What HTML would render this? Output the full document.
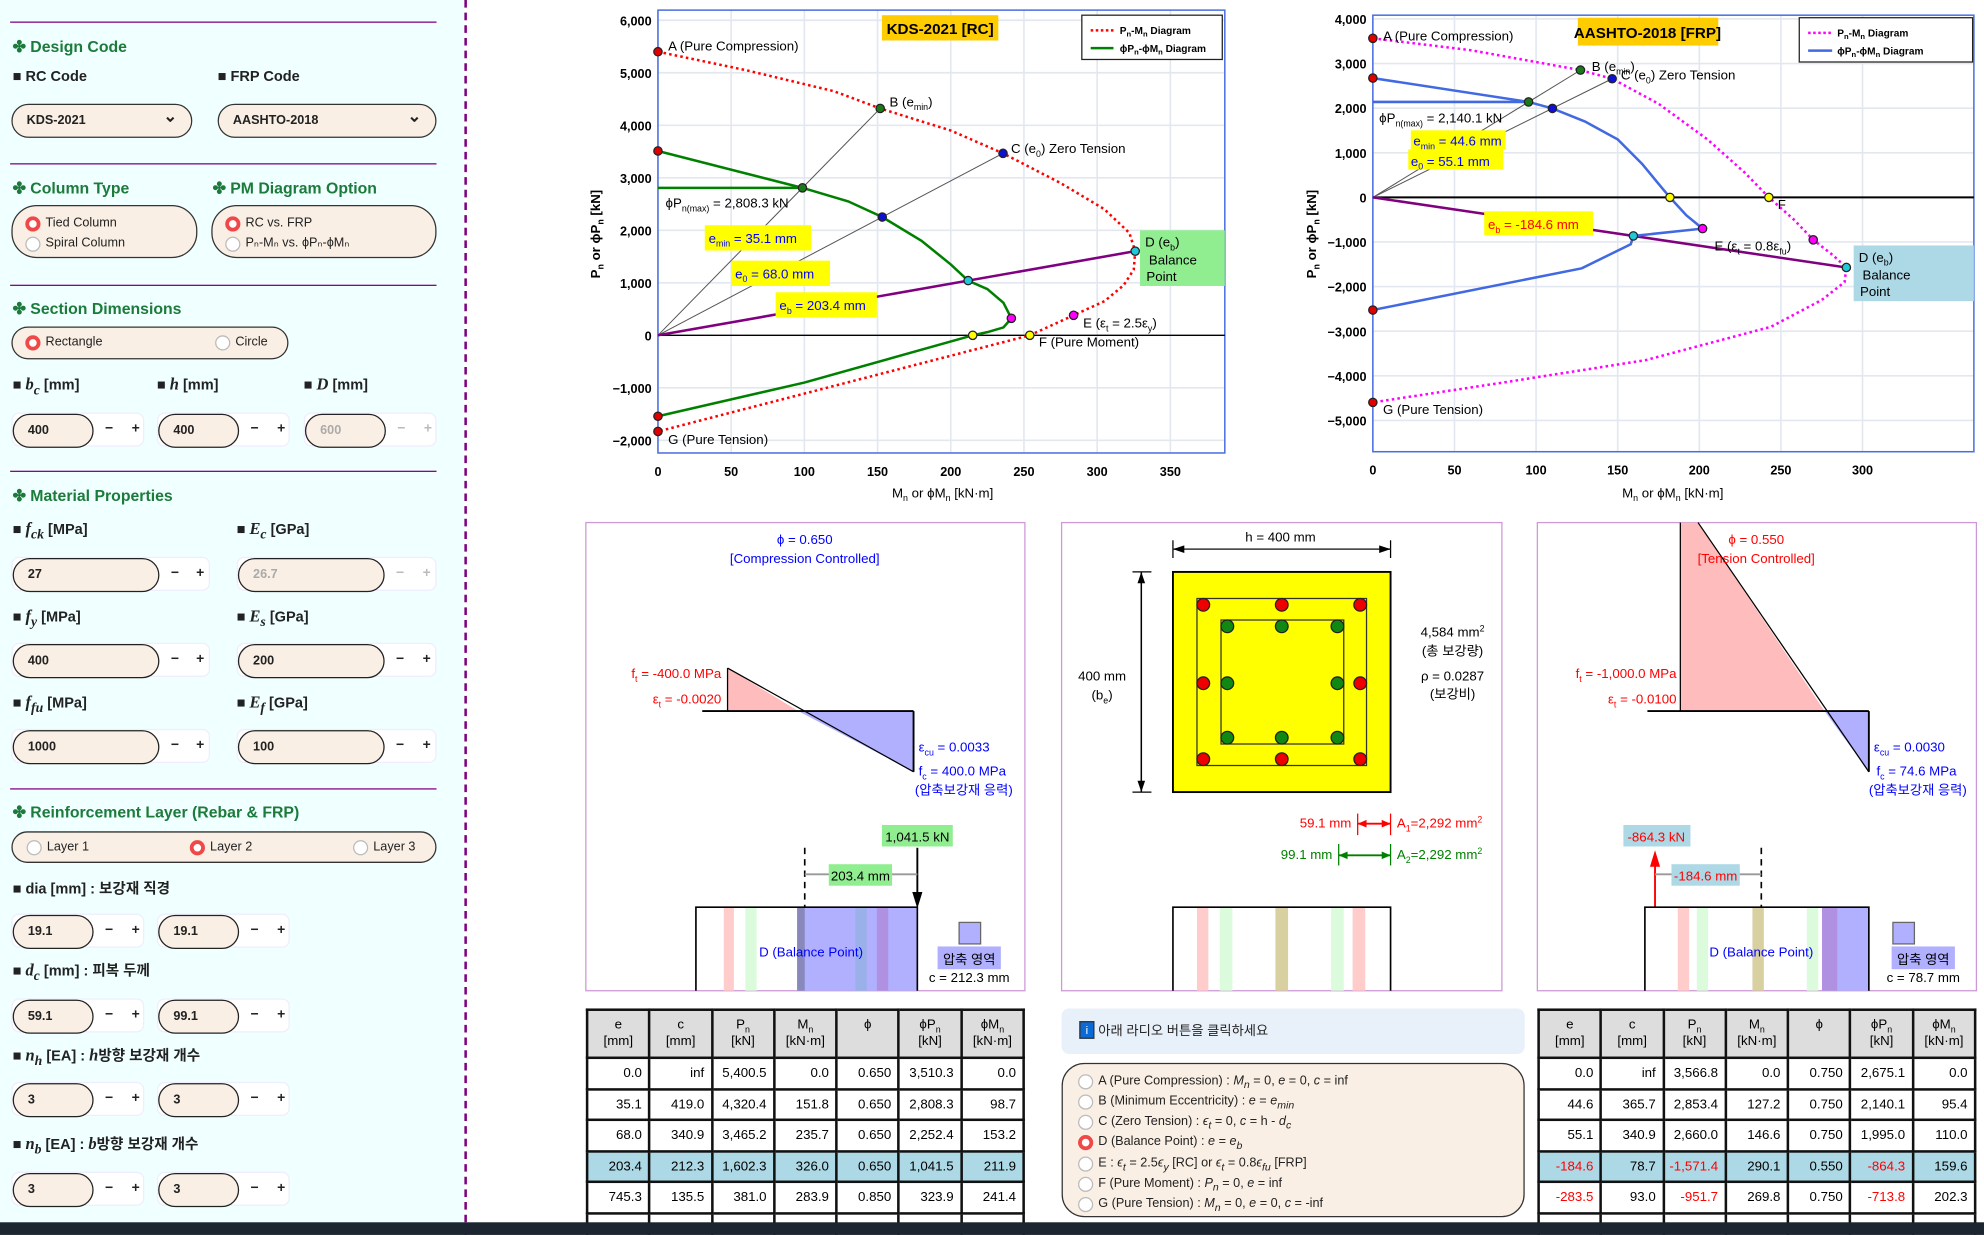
<!DOCTYPE html>
<html><head><meta charset="utf-8">
<style>
*{box-sizing:border-box;margin:0;padding:0}
body{width:1984px;height:1235px;overflow:hidden;background:#fff;font-family:"Liberation Sans","Noto Sans CJK KR",sans-serif;}
#root{position:absolute;left:0;top:0;width:1568px;height:976px;overflow:hidden;transform:scale(1.265306);transform-origin:0 0;}
.abs{position:absolute}
#left{position:absolute;left:0;top:0;width:367px;height:976px;background:#f0ffff;}
.hr{position:absolute;left:8px;width:337px;height:0;border-top:1.5px solid #800080}
.sec{position:absolute;left:10px;font-size:12.5px;font-weight:bold;color:#1c7b3a;white-space:nowrap}
.lbl{position:absolute;font-size:11.5px;font-weight:bold;color:#222;white-space:nowrap}
.lbl i{font-family:"Liberation Serif",serif;font-size:13px}
.sel{position:absolute;height:27px;border:1.5px solid #333;border-radius:14px;background:#faefe4;font-size:10px;font-weight:bold;color:#222;padding:7px 0 0 11px}
.sel:after{content:"⌄";position:absolute;right:11px;top:1px;font-size:13px}
.rbox{position:absolute;border:1.5px solid #333;border-radius:20px;background:#faefe4}
.rad{position:absolute;font-size:10px;color:#222;white-space:nowrap;padding-left:16px;line-height:12px}
.rad:before{content:"";position:absolute;left:0;top:0;width:10px;height:10px;border:1px solid #bbb;border-radius:50%;background:#fff}
.rad.on:before{border:3px solid #f04848;width:6px;height:6px}
.grp{position:absolute;height:27px;background:#fff;border-radius:6px;border:1px solid #eef}
.pill{position:absolute;left:0;top:0;height:27px;border:1.5px solid #222;border-radius:14px;background:#faefe4;font-size:10px;font-weight:bold;color:#222;padding:7px 0 0 11px}
.pill.dis{color:#aaa}
.bt{position:absolute;top:6px;font-size:11px;font-weight:bold;color:#222}
.bt.dis{color:#bbb}
table{border-collapse:collapse;position:absolute;font-size:10.5px;table-layout:fixed}
td{border:2px solid #111;text-align:right;padding:0 5px 0 0;height:24.5px;line-height:12px}
th{border:2px solid #111;background:#ddd;font-weight:normal;height:38px;font-size:10.5px;line-height:13px}
th sub{font-size:7px;line-height:0}
tr.hl td{background:#add8e6}
.neg{color:red}
</style></head>
<body>
<div id="root">

<div id="left">
  <div class="hr" style="top:17px"></div>
  <div class="sec" style="top:29px">✤ Design Code</div>
  <div class="lbl" style="left:10px;top:55px">■ RC Code</div>
  <div class="lbl" style="left:172px;top:55px">■ FRP Code</div>
  <div class="sel" style="left:9px;top:82px;width:143px">KDS-2021</div>
  <div class="sel" style="left:172px;top:82px;width:173px">AASHTO-2018</div>
  <div class="hr" style="top:129px"></div>
  <div class="sec" style="top:141px">✤ Column Type</div>
  <div class="sec" style="left:168px;top:141px">✤ PM Diagram Option</div>
  <div class="rbox" style="left:9px;top:162px;width:147px;height:42px">
    <div class="rad on" style="left:10px;top:8px">Tied Column</div>
    <div class="rad" style="left:10px;top:24px">Spiral Column</div>
  </div>
  <div class="rbox" style="left:167px;top:162px;width:178px;height:42px">
    <div class="rad on" style="left:10px;top:8px">RC vs. FRP</div>
    <div class="rad" style="left:10px;top:24px">Pₙ-Mₙ vs. ϕPₙ-ϕMₙ</div>
  </div>
  <div class="hr" style="top:225px"></div>
  <div class="sec" style="top:236px">✤ Section Dimensions</div>
  <div class="rbox" style="left:9px;top:258px;width:219px;height:26px">
    <div class="rad on" style="left:10px;top:6px">Rectangle</div>
    <div class="rad" style="left:160px;top:6px">Circle</div>
  </div>
  <div class="lbl" style="left:10px;top:296px">■ <i>b<sub>c</sub></i> [mm]</div>
  <div class="lbl" style="left:124px;top:296px">■ <i>h</i> [mm]</div>
  <div class="lbl" style="left:240px;top:296px">■ <i>D</i> [mm]</div>
  <div class="grp" style="left:9px;top:326px;width:105px"><div class="pill" style="width:64px">400</div><span class="bt" style="left:73px">−</span><span class="bt" style="left:94px">+</span></div>
  <div class="grp" style="left:124px;top:326px;width:105px"><div class="pill" style="width:64px">400</div><span class="bt" style="left:73px">−</span><span class="bt" style="left:94px">+</span></div>
  <div class="grp" style="left:240px;top:326px;width:105px"><div class="pill dis" style="width:64px">600</div><span class="bt dis" style="left:73px">−</span><span class="bt dis" style="left:94px">+</span></div>
  <div class="hr" style="top:372px"></div>
  <div class="sec" style="top:384px">✤ Material Properties</div>
  <div class="lbl" style="left:10px;top:410px">■ <i>f<sub>ck</sub></i> [MPa]</div>
  <div class="lbl" style="left:187px;top:410px">■ <i>E<sub>c</sub></i> [GPa]</div>
  <div class="grp" style="left:9px;top:440px;width:157px"><div class="pill" style="width:116px">27</div><span class="bt" style="left:125px">−</span><span class="bt" style="left:145px">+</span></div>
  <div class="grp" style="left:187px;top:440px;width:158px"><div class="pill dis" style="width:116px">26.7</div><span class="bt dis" style="left:125px">−</span><span class="bt dis" style="left:146px">+</span></div>
  <div class="lbl" style="left:10px;top:479px">■ <i>f<sub>y</sub></i> [MPa]</div>
  <div class="lbl" style="left:187px;top:479px">■ <i>E<sub>s</sub></i> [GPa]</div>
  <div class="grp" style="left:9px;top:508px;width:157px"><div class="pill" style="width:116px">400</div><span class="bt" style="left:125px">−</span><span class="bt" style="left:145px">+</span></div>
  <div class="grp" style="left:187px;top:508px;width:158px"><div class="pill" style="width:116px">200</div><span class="bt" style="left:125px">−</span><span class="bt" style="left:146px">+</span></div>
  <div class="lbl" style="left:10px;top:547px">■ <i>f<sub>fu</sub></i> [MPa]</div>
  <div class="lbl" style="left:187px;top:547px">■ <i>E<sub>f</sub></i> [GPa]</div>
  <div class="grp" style="left:9px;top:576px;width:157px"><div class="pill" style="width:116px">1000</div><span class="bt" style="left:125px">−</span><span class="bt" style="left:145px">+</span></div>
  <div class="grp" style="left:187px;top:576px;width:158px"><div class="pill" style="width:116px">100</div><span class="bt" style="left:125px">−</span><span class="bt" style="left:146px">+</span></div>
  <div class="hr" style="top:623px"></div>
  <div class="sec" style="top:634px">✤ Reinforcement Layer (Rebar &amp; FRP)</div>
  <div class="rbox" style="left:9px;top:657px;width:336px;height:25px">
    <div class="rad" style="left:11px;top:6px">Layer 1</div>
    <div class="rad on" style="left:140px;top:6px">Layer 2</div>
    <div class="rad" style="left:269px;top:6px">Layer 3</div>
  </div>
  <div class="lbl" style="left:10px;top:694px">■ dia [mm] : 보강재 직경</div>
  <div class="grp" style="left:9px;top:722px;width:105px"><div class="pill" style="width:64px">19.1</div><span class="bt" style="left:73px">−</span><span class="bt" style="left:94px">+</span></div>
  <div class="grp" style="left:124px;top:722px;width:105px"><div class="pill" style="width:64px">19.1</div><span class="bt" style="left:73px">−</span><span class="bt" style="left:94px">+</span></div>
  <div class="lbl" style="left:10px;top:759px">■ <i>d<sub>c</sub></i> [mm] : 피복 두께</div>
  <div class="grp" style="left:9px;top:789px;width:105px"><div class="pill" style="width:64px">59.1</div><span class="bt" style="left:73px">−</span><span class="bt" style="left:94px">+</span></div>
  <div class="grp" style="left:124px;top:789px;width:105px"><div class="pill" style="width:64px">99.1</div><span class="bt" style="left:73px">−</span><span class="bt" style="left:94px">+</span></div>
  <div class="lbl" style="left:10px;top:826px">■ <i>n<sub>h</sub></i> [EA] : <i>h</i>방향 보강재 개수</div>
  <div class="grp" style="left:9px;top:855px;width:105px"><div class="pill" style="width:64px">3</div><span class="bt" style="left:73px">−</span><span class="bt" style="left:94px">+</span></div>
  <div class="grp" style="left:124px;top:855px;width:105px"><div class="pill" style="width:64px">3</div><span class="bt" style="left:73px">−</span><span class="bt" style="left:94px">+</span></div>
  <div class="lbl" style="left:10px;top:896px">■ <i>n<sub>b</sub></i> [EA] : <i>b</i>방향 보강재 개수</div>
  <div class="grp" style="left:9px;top:926px;width:105px"><div class="pill" style="width:64px">3</div><span class="bt" style="left:73px">−</span><span class="bt" style="left:94px">+</span></div>
  <div class="grp" style="left:124px;top:926px;width:105px"><div class="pill" style="width:64px">3</div><span class="bt" style="left:73px">−</span><span class="bt" style="left:94px">+</span></div>
</div>
<div class="abs" style="left:367px;top:0;height:976px;border-left:2px dashed #800080"></div>

<svg id="sv" class="abs" style="left:0;top:0" width="1568" height="976" font-family="Liberation Sans, Noto Sans CJK KR, sans-serif">
 <g id="c1"></g>
 <g id="c2"></g>

 <!-- Panel 1 -->
 <g font-size="10.5">
  <rect x="463" y="413" width="347" height="370" fill="none" stroke="#cc99d6"/>
  <text x="636" y="430" fill="blue" text-anchor="middle">ϕ = 0.650</text>
  <text x="636" y="445" fill="blue" text-anchor="middle">[Compression Controlled]</text>
  <polygon points="575,528 575,562 631,562" fill="#ffbcbc"/>
  <polygon points="631,562 722,562 722,610" fill="#b0b0ff"/>
  <line x1="555" y1="562" x2="722" y2="562" stroke="#000" stroke-width="1.5"/>
  <line x1="575" y1="528" x2="575" y2="562" stroke="#000"/>
  <line x1="722" y1="562" x2="722" y2="610" stroke="#000" stroke-width="1.5"/>
  <line x1="575" y1="528" x2="722" y2="610" stroke="#000"/>
  <text x="570" y="536" fill="red" text-anchor="end">f<tspan font-size="7" dy="3">t</tspan><tspan dy="-3"> = -400.0 MPa</tspan></text>
  <text x="570" y="556" fill="red" text-anchor="end">ε<tspan font-size="7" dy="3">t</tspan><tspan dy="-3"> = -0.0020</tspan></text>
  <text x="726" y="594" fill="blue">ε<tspan font-size="7" dy="3">cu</tspan><tspan dy="-3"> = 0.0033</tspan></text>
  <text x="726" y="613" fill="blue">f<tspan font-size="7" dy="3">c</tspan><tspan dy="-3"> = 400.0 MPa</tspan></text>
  <text x="723" y="628" fill="blue">(압축보강재 응력)</text>
  <rect x="697" y="652" width="56" height="17" fill="#90ee90"/>
  <text x="725" y="665" text-anchor="middle">1,041.5 kN</text>
  <line x1="725" y1="670" x2="725" y2="708" stroke="#000" stroke-width="1.5"/>
  <polygon points="721,705 729,705 725,718" fill="#000"/>
  <line x1="636" y1="670" x2="636" y2="782" stroke="#000" stroke-dasharray="5,4" stroke-width="1.3"/>
  <line x1="636" y1="691" x2="725" y2="691" stroke="#999" stroke-width="1.5"/>
  <rect x="655" y="683" width="50" height="17" fill="#90ee90"/>
  <text x="680" y="696" text-anchor="middle">203.4 mm</text>
  <rect x="630" y="717" width="95" height="66" fill="#b0b0ff"/>
  <rect x="630" y="717" width="6" height="66" fill="#8888bb"/>
  <rect x="572" y="717" width="8" height="66" fill="#ffcccc"/>
  <rect x="589" y="717" width="9" height="66" fill="#dcfadc"/>
  <rect x="676" y="717" width="9" height="66" fill="#9ab0e8"/>
  <rect x="693" y="717" width="9" height="66" fill="#b090e0"/>
  <polyline points="550,783 550,717 725,717 725,783" fill="none" stroke="#000" stroke-width="1.3"/>
  <text x="641" y="756" fill="blue" text-anchor="middle">D (Balance Point)</text>
  <rect x="758" y="729" width="17" height="17" fill="#b0b0ff" stroke="#666"/>
  <rect x="741" y="748" width="50" height="18" fill="#b0b0ff"/>
  <text x="766" y="762" text-anchor="middle">압축 영역</text>
  <text x="766" y="776" text-anchor="middle">c = 212.3 mm</text>
 </g>

 <!-- Panel 2 -->
 <g font-size="10.5">
  <rect x="839" y="413" width="348" height="370" fill="none" stroke="#cc99d6"/>
  <text x="1012" y="428" text-anchor="middle">h = 400 mm</text>
  <line x1="927" y1="427" x2="927" y2="441" stroke="#000"/><line x1="1099" y1="427" x2="1099" y2="441" stroke="#000"/>
  <line x1="927" y1="434" x2="1099" y2="434" stroke="#333" stroke-width="1.2"/>
  <polygon points="927,434 936,431 936,437" fill="#000"/><polygon points="1099,434 1090,431 1090,437" fill="#000"/>
  <line x1="895" y1="452" x2="910" y2="452" stroke="#000"/><line x1="895" y1="626" x2="910" y2="626" stroke="#000"/>
  <line x1="902" y1="452" x2="902" y2="626" stroke="#000" stroke-width="1.2"/>
  <polygon points="902,452 899,461 905,461" fill="#000"/><polygon points="902,626 899,617 905,617" fill="#000"/>
  <text x="871" y="538" text-anchor="middle">400 mm</text>
  <text x="871" y="553" text-anchor="middle">(b<tspan font-size="7" dy="3">e</tspan><tspan dy="-3">)</tspan></text>
  <rect x="927" y="452" width="172" height="174" fill="#ffff00" stroke="#000" stroke-width="1.5"/>
  <rect x="946" y="473" width="134" height="132" fill="none" stroke="#333"/>
  <rect x="965" y="490" width="97" height="98" fill="none" stroke="#333"/>
  <g id="bars"></g>
  <text x="1148" y="503" text-anchor="middle">4,584 mm<tspan font-size="7" dy="-4">2</tspan></text>
  <text x="1148" y="518" text-anchor="middle">(총 보강량)</text>
  <text x="1148" y="538" text-anchor="middle">ρ = 0.0287</text>
  <text x="1148" y="552" text-anchor="middle">(보강비)</text>
  <text x="1068" y="654" fill="red" text-anchor="end">59.1 mm</text>
  <line x1="1073" y1="643" x2="1073" y2="660" stroke="red"/><line x1="1099" y1="643" x2="1099" y2="660" stroke="red"/>
  <line x1="1073" y1="651" x2="1099" y2="651" stroke="red" stroke-width="1.5"/>
  <polygon points="1073,651 1080,648 1080,654" fill="red"/><polygon points="1099,651 1092,648 1092,654" fill="red"/>
  <text x="1104" y="654" fill="red">A<tspan font-size="7" dy="3">1</tspan><tspan dy="-3">=2,292 mm</tspan><tspan font-size="7" dy="-4">2</tspan></text>
  <text x="1053" y="679" fill="green" text-anchor="end">99.1 mm</text>
  <line x1="1058" y1="667" x2="1058" y2="684" stroke="green"/><line x1="1099" y1="667" x2="1099" y2="684" stroke="green"/>
  <line x1="1058" y1="676" x2="1099" y2="676" stroke="green" stroke-width="1.5"/>
  <polygon points="1058,676 1065,673 1065,679" fill="green"/><polygon points="1099,676 1092,673 1092,679" fill="green"/>
  <text x="1104" y="679" fill="green">A<tspan font-size="7" dy="3">2</tspan><tspan dy="-3">=2,292 mm</tspan><tspan font-size="7" dy="-4">2</tspan></text>
  <rect x="946" y="717" width="9" height="66" fill="#ffcccc"/>
  <rect x="964" y="717" width="10" height="66" fill="#dcfadc"/>
  <rect x="1008" y="717" width="10" height="66" fill="#d8d0a0"/>
  <rect x="1052" y="717" width="10" height="66" fill="#dcfadc"/>
  <rect x="1069" y="717" width="10" height="66" fill="#ffcccc"/>
  <polyline points="927,783 927,717 1099,717 1099,783" fill="none" stroke="#000" stroke-width="1.3"/>
 </g>

 <!-- Panel 3 -->
 <g font-size="10.5">
  <rect x="1215" y="413" width="347" height="370" fill="none" stroke="#cc99d6"/>
  <polygon points="1328,413 1342,413 1442,562 1328,562" fill="#ffbcbc"/>
  <polygon points="1442,562 1477,562 1477,610" fill="#b0b0ff"/>
  <line x1="1302" y1="562" x2="1477" y2="562" stroke="#000" stroke-width="1.5"/>
  <line x1="1328" y1="413" x2="1328" y2="562" stroke="#000"/>
  <line x1="1477" y1="562" x2="1477" y2="610" stroke="#000" stroke-width="1.5"/>
  <line x1="1342" y1="413" x2="1477" y2="610" stroke="#000"/>
  <text x="1388" y="430" fill="red" text-anchor="middle">ϕ = 0.550</text>
  <text x="1388" y="445" fill="red" text-anchor="middle">[Tension Controlled]</text>
  <text x="1325" y="536" fill="red" text-anchor="end">f<tspan font-size="7" dy="3">t</tspan><tspan dy="-3"> = -1,000.0 MPa</tspan></text>
  <text x="1325" y="556" fill="red" text-anchor="end">ε<tspan font-size="7" dy="3">t</tspan><tspan dy="-3"> = -0.0100</tspan></text>
  <text x="1481" y="594" fill="blue">ε<tspan font-size="7" dy="3">cu</tspan><tspan dy="-3"> = 0.0030</tspan></text>
  <text x="1483" y="613" fill="blue">f<tspan font-size="7" dy="3">c</tspan><tspan dy="-3"> = 74.6 MPa</tspan></text>
  <text x="1477" y="628" fill="blue">(압축보강재 응력)</text>
  <rect x="1283" y="652" width="53" height="17" fill="#add8e6"/>
  <text x="1309" y="665" fill="red" text-anchor="middle">-864.3 kN</text>
  <line x1="1308" y1="717" x2="1308" y2="682" stroke="red" stroke-width="1.5"/>
  <polygon points="1304,685 1312,685 1308,672" fill="red"/>
  <line x1="1392" y1="670" x2="1392" y2="782" stroke="#000" stroke-dasharray="5,4" stroke-width="1.3"/>
  <line x1="1308" y1="691" x2="1392" y2="691" stroke="#999" stroke-width="1.5"/>
  <rect x="1321" y="683" width="54" height="17" fill="#add8e6"/>
  <text x="1348" y="696" fill="red" text-anchor="middle">-184.6 mm</text>
  <rect x="1440" y="717" width="37" height="66" fill="#b0b0ff"/>
  <rect x="1440" y="717" width="12" height="66" fill="#b090e0"/>
  <rect x="1326" y="717" width="9" height="66" fill="#ffcccc"/>
  <rect x="1341" y="717" width="9" height="66" fill="#dcfadc"/>
  <rect x="1385" y="717" width="9" height="66" fill="#d8d0a0"/>
  <rect x="1428" y="717" width="9" height="66" fill="#dcfadc"/>
  <polyline points="1300,783 1300,717 1477,717 1477,783" fill="none" stroke="#000" stroke-width="1.3"/>
  <text x="1392" y="756" fill="blue" text-anchor="middle">D (Balance Point)</text>
  <rect x="1496" y="729" width="17" height="17" fill="#b0b0ff" stroke="#666"/>
  <rect x="1495" y="748" width="50" height="18" fill="#b0b0ff"/>
  <text x="1520" y="762" text-anchor="middle">압축 영역</text>
  <text x="1520" y="776" text-anchor="middle">c = 78.7 mm</text>
 </g>
</svg>

<table style="left:463px;top:797px;width:347px">
<tr><th>e<br>[mm]</th><th>c<br>[mm]</th><th>P<sub>n</sub><br>[kN]</th><th>M<sub>n</sub><br>[kN·m]</th><th>ϕ<br>&nbsp;</th><th>ϕP<sub>n</sub><br>[kN]</th><th>ϕM<sub>n</sub><br>[kN·m]</th></tr>
<tr><td>0.0</td><td>inf</td><td>5,400.5</td><td>0.0</td><td>0.650</td><td>3,510.3</td><td>0.0</td></tr>
<tr><td>35.1</td><td>419.0</td><td>4,320.4</td><td>151.8</td><td>0.650</td><td>2,808.3</td><td>98.7</td></tr>
<tr><td>68.0</td><td>340.9</td><td>3,465.2</td><td>235.7</td><td>0.650</td><td>2,252.4</td><td>153.2</td></tr>
<tr class="hl"><td>203.4</td><td>212.3</td><td>1,602.3</td><td>326.0</td><td>0.650</td><td>1,041.5</td><td>211.9</td></tr>
<tr><td>745.3</td><td>135.5</td><td>381.0</td><td>283.9</td><td>0.850</td><td>323.9</td><td>241.4</td></tr>
<tr><td></td><td></td><td></td><td></td><td></td><td></td><td></td></tr>
</table>

<table style="left:1215px;top:797px;width:347px">
<tr><th>e<br>[mm]</th><th>c<br>[mm]</th><th>P<sub>n</sub><br>[kN]</th><th>M<sub>n</sub><br>[kN·m]</th><th>ϕ<br>&nbsp;</th><th>ϕP<sub>n</sub><br>[kN]</th><th>ϕM<sub>n</sub><br>[kN·m]</th></tr>
<tr><td>0.0</td><td>inf</td><td>3,566.8</td><td>0.0</td><td>0.750</td><td>2,675.1</td><td>0.0</td></tr>
<tr><td>44.6</td><td>365.7</td><td>2,853.4</td><td>127.2</td><td>0.750</td><td>2,140.1</td><td>95.4</td></tr>
<tr><td>55.1</td><td>340.9</td><td>2,660.0</td><td>146.6</td><td>0.750</td><td>1,995.0</td><td>110.0</td></tr>
<tr class="hl"><td class="neg">-184.6</td><td>78.7</td><td class="neg">-1,571.4</td><td>290.1</td><td>0.550</td><td class="neg">-864.3</td><td>159.6</td></tr>
<tr><td class="neg">-283.5</td><td>93.0</td><td class="neg">-951.7</td><td>269.8</td><td>0.750</td><td class="neg">-713.8</td><td>202.3</td></tr>
<tr><td></td><td></td><td></td><td></td><td></td><td></td><td></td></tr>
</table>

<div class="abs" style="left:839px;top:797px;width:366px;height:36px;background:#e8f0fa;border-radius:6px">
  <span class="abs" style="left:14px;top:10px;width:12px;height:14px;background:#0a6ad8;border:1px solid #333;color:#fff;font-size:9px;text-align:center;line-height:12px">i</span>
  <span class="abs" style="left:29px;top:10px;font-size:10.5px;color:#222">아래 라디오 버튼을 클릭하세요</span>
</div>
<div class="rbox" style="left:839px;top:840px;width:366px;height:122px;border-radius:18px;font-size:10px">
  <div class="rad" style="left:12px;top:8px">A (Pure Compression) : <i>M<sub>n</sub></i> = 0, <i>e</i> = 0, <i>c</i> = inf</div>
  <div class="rad" style="left:12px;top:24px">B (Minimum Eccentricity) : <i>e</i> = <i>e<sub>min</sub></i></div>
  <div class="rad" style="left:12px;top:40px">C (Zero Tension) : <i>ϵ<sub>t</sub></i> = 0, <i>c</i> = h - <i>d<sub>c</sub></i></div>
  <div class="rad on" style="left:12px;top:56px">D (Balance Point) : <i>e</i> = <i>e<sub>b</sub></i></div>
  <div class="rad" style="left:12px;top:73px">E : <i>ϵ<sub>t</sub></i> = 2.5<i>ϵ<sub>y</sub></i> [RC] or <i>ϵ<sub>t</sub></i> = 0.8<i>ϵ<sub>fu</sub></i> [FRP]</div>
  <div class="rad" style="left:12px;top:89px">F (Pure Moment) : <i>P<sub>n</sub></i> = 0, <i>e</i> = inf</div>
  <div class="rad" style="left:12px;top:105px">G (Pure Tension) : <i>M<sub>n</sub></i> = 0, <i>e</i> = 0, <i>c</i> = -inf</div>
</div>
<div class="abs" style="left:0;top:966px;width:1568px;height:10px;background:#1c2631"></div>
</div>

<script>
// ===== RC chart data (KDS-2021) =====
const rcXTicks=[0,50,100,150,200,250,300,350];
const rcYTicks=[-2000,-1000,0,1000,2000,3000,4000,5000,6000];
const rcPnM=[0,60,120,151.8,200,235.7,275,305,322,326.0,325,318,305,283.9,254,0];
const rcPnP=[5400.5,5050,4650,4320.4,3900,3465.2,2900,2400,1950,1602.3,1250,950,650,381.0,0,-1831];
const rcPhiM=[0,98.7,130,153.2,180,200,211.9,225,236,241.4,236,225,215,100,0];
const rcPhiP=[3510.3,2808.3,2550,2252.4,1800,1350,1041.5,880,620,323.9,150,60,0,-900,-1542];
const rcPtM=[0,151.8,235.7,326.0,283.9,254,0];
const rcPtP=[5400.5,4320.4,3465.2,1602.3,381.0,0,-1831];
const rcPhiPtM=[0,98.7,153.2,211.9,241.4,215,0];
const rcPhiPtP=[3510.3,2808.3,2252.4,1041.5,323.9,0,-1542];
const rcPhiMax=2808.3;
// ===== FRP chart data (AASHTO-2018) =====
const frpXTicks=[0,50,100,150,200,250,300];
const frpYTicks=[-5000,-4000,-3000,-2000,-1000,0,1000,2000,3000,4000];
const frpPnM=[0,60,127.2,146.6,175,205,228,242.6,258,269.8,282,290.1,289,275,244,167,80,0];
const frpPnP=[3566.8,3300,2853.4,2660.0,2100,1300,550,0,-500,-951.7,-1300,-1571.4,-1900,-2300,-2900,-3650,-4150,-4596];
const frpPhiM=[0,95.4,110,130,150,165,174,182,192,202,159.6,158,128,0];
const frpPhiP=[2675.1,2140.1,1995,1700,1300,750,350,0,-400,-700,-864.3,-1050,-1590,-2525];
const frpPtM=[0,127.2,146.6,290.1,269.8,242.6,0];
const frpPtP=[3566.8,2853.4,2660.0,-1571.4,-951.7,0,-4596];
const frpPhiPtM=[0,95.4,110,159.6,202,182,0];
const frpPhiPtP=[2675.1,2140.1,1995.0,-864.3,-700,0,-2525];
const frpPhiMax=2140.1;
const ptColors=["#e00000","#1a7a1a","#1010d0","#20c8d8","#ff00ff","#ffff00","#e00000"];

const NS="http://www.w3.org/2000/svg";
function el(tag,parent){const e=document.createElementNS(NS,tag);parent.appendChild(e);return e;}
function fmt(v){const s=Math.abs(v).toLocaleString('en-US');return v<0?"−"+s:s;}

function drawChart(g,cfg,xt,yt,pnM,pnP,phM,phP,ptM,ptP,phPtM,phPtP,phiMax,pnColor,phColor){
  const X=cfg.X,Y=cfg.Y,L=cfg.L,R=cfg.R,T=cfg.T,B=cfg.B;
  xt.forEach(v=>{const l=el('line',g);l.setAttribute('x1',X(v));l.setAttribute('x2',X(v));l.setAttribute('y1',T);l.setAttribute('y2',B);l.setAttribute('stroke','#e3e8f0');l.setAttribute('stroke-width','1.3');
    
    
    const t=el('text',g);t.setAttribute('x',X(v));t.setAttribute('y',B+18);t.setAttribute('text-anchor','middle');t.setAttribute('font-size','10');t.setAttribute('font-weight','bold');t.textContent=fmt(v);
    
    });
  yt.forEach(v=>{const l=el('line',g);l.setAttribute('x1',L);l.setAttribute('x2',R);l.setAttribute('y1',Y(v));l.setAttribute('y2',Y(v));l.setAttribute('stroke','#e3e8f0');l.setAttribute('stroke-width','1.3');
    
    
    const t=el('text',g);t.setAttribute('x',L-5);t.setAttribute('y',Y(v)+4);t.setAttribute('text-anchor','end');t.setAttribute('font-size','10');t.setAttribute('font-weight','bold');t.textContent=fmt(v);
    
    });
  const fr=el('rect',g);fr.setAttribute('x',L);fr.setAttribute('y',T);fr.setAttribute('width',R-L);fr.setAttribute('height',B-T);fr.setAttribute('fill','none');fr.setAttribute('stroke','#4a6fe0');fr.setAttribute('stroke-width','1.2');
  
  
  const z=el('line',g);z.setAttribute('x1',L);z.setAttribute('x2',R);z.setAttribute('y1',Y(0));z.setAttribute('y2',Y(0));z.setAttribute('stroke','#000');z.setAttribute('stroke-width',cfg.zw);
  
  
  [1,2].forEach(i=>{const l=el('line',g);l.setAttribute('x1',X(0));l.setAttribute('y1',Y(0));l.setAttribute('x2',X(ptM[i]));l.setAttribute('y2',Y(ptP[i]));l.setAttribute('stroke','#555');l.setAttribute('stroke-width','0.8');
    
    });
  const pl=el('line',g);pl.setAttribute('x1',X(0));pl.setAttribute('y1',Y(0));pl.setAttribute('x2',X(ptM[3]));pl.setAttribute('y2',Y(ptP[3]));pl.setAttribute('stroke','#800080');pl.setAttribute('stroke-width','2');
  
  
  const cap=el('line',g);cap.setAttribute('x1',X(0));cap.setAttribute('y1',Y(phiMax));cap.setAttribute('x2',X(phPtM[1]));cap.setAttribute('y2',Y(phiMax));cap.setAttribute('stroke',phColor);cap.setAttribute('stroke-width','2');
  
  
  const p1=el('polyline',g);p1.setAttribute('points',pnM.map((m,i)=>X(m)+','+Y(pnP[i])).join(' '));p1.setAttribute('fill','none');p1.setAttribute('stroke',pnColor);p1.setAttribute('stroke-width','2');p1.setAttribute('stroke-dasharray','2,2.5');
  
  
  const p2=el('polyline',g);p2.setAttribute('points',phM.map((m,i)=>X(m)+','+Y(phP[i])).join(' '));p2.setAttribute('fill','none');p2.setAttribute('stroke',phColor);p2.setAttribute('stroke-width','2');
  
  
  ptM.forEach((m,i)=>{const c=el('circle',g);c.setAttribute('cx',X(m));c.setAttribute('cy',Y(ptP[i]));c.setAttribute('r','3.3');c.setAttribute('fill',ptColors[i]);c.setAttribute('stroke','#222');
    
    });
  phPtM.forEach((m,i)=>{const c=el('circle',g);c.setAttribute('cx',X(m));c.setAttribute('cy',Y(phPtP[i]));c.setAttribute('r','3.3');c.setAttribute('fill',ptColors[i]);c.setAttribute('stroke','#222');
    
    });
}
const c1=document.getElementById('c1'),c2=document.getElementById('c2');
const cfg1={X:m=>520+m*1.157,Y:p=>265-p*0.0415,L:520,R:968,T:8,B:358,zw:1};
const cfg2={X:m=>1085+m*1.29,Y:p=>156-p*0.03525,L:1085,R:1560,T:12,B:357,zw:1.6};
drawChart(c1,cfg1,rcXTicks,rcYTicks,rcPnM,rcPnP,rcPhiM,rcPhiP,rcPtM,rcPtP,rcPhiPtM,rcPhiPtP,rcPhiMax,'#ff0000','#008000');
drawChart(c2,cfg2,frpXTicks,frpYTicks,frpPnM,frpPnP,frpPhiM,frpPhiP,frpPtM,frpPtP,frpPhiPtM,frpPhiPtP,frpPhiMax,'#ff00ff','#4169e1');

function addHTML(g,s){g.insertAdjacentHTML('beforeend',s);}
addHTML(c1,`
<text x="745" y="393" text-anchor="middle" font-size="10.5">M<tspan font-size="7" dy="3">n</tspan><tspan dy="-3"> or ϕM</tspan><tspan font-size="7" dy="3">n</tspan><tspan dy="-3"> [kN·m]</tspan></text>
<text transform="translate(474,185) rotate(-90)" text-anchor="middle" font-size="10.5" font-weight="bold">P<tspan font-size="7" dy="3">n</tspan><tspan dy="-3"> or ϕP</tspan><tspan font-size="7" dy="3">n</tspan><tspan dy="-3"> [kN]</tspan></text>
<rect x="697" y="12" width="92" height="20" fill="#ffcc00"/>
<text x="743" y="27" text-anchor="middle" font-size="12" font-weight="bold">KDS-2021 [RC]</text>
<rect x="855" y="12" width="111" height="35" fill="#fff" stroke="#222"/>
<line x1="862" y1="24" x2="880" y2="24" stroke="red" stroke-width="2" stroke-dasharray="2,2"/>
<text x="885" y="27" font-size="8" font-weight="bold">P<tspan font-size="6" dy="2">n</tspan><tspan dy="-2">-M</tspan><tspan font-size="6" dy="2">n</tspan><tspan dy="-2"> Diagram</tspan></text>
<line x1="862" y1="38" x2="880" y2="38" stroke="#008000" stroke-width="2"/>
<text x="885" y="41" font-size="8" font-weight="bold">ϕP<tspan font-size="6" dy="2">n</tspan><tspan dy="-2">-ϕM</tspan><tspan font-size="6" dy="2">n</tspan><tspan dy="-2"> Diagram</tspan></text>
<g font-size="10.5">
<text x="528" y="40">A (Pure Compression)</text>
<text x="703" y="84">B (e<tspan font-size="7" dy="3">min</tspan><tspan dy="-3">)</tspan></text>
<text x="799" y="121">C (e<tspan font-size="7" dy="3">0</tspan><tspan dy="-3">) Zero Tension</tspan></text>
<rect x="901" y="182" width="67" height="44" fill="#90ee90"/>
<text x="905" y="195">D (e<tspan font-size="7" dy="3">b</tspan><tspan dy="-3">)</tspan></text>
<text x="908" y="209">Balance</text><text x="906" y="222">Point</text>
<text x="856" y="259">E (ε<tspan font-size="7" dy="3">t</tspan><tspan dy="-3"> = 2.5ε</tspan><tspan font-size="7" dy="3">y</tspan><tspan dy="-3">)</tspan></text>
<text x="821" y="274">F (Pure Moment)</text>
<text x="528" y="351">G (Pure Tension)</text>
<text x="526" y="164">ϕP<tspan font-size="7" dy="3">n(max)</tspan><tspan dy="-3"> = 2,808.3 kN</tspan></text>
<rect x="557" y="178" width="84" height="20" fill="#ffff00"/>
<text x="560" y="192" fill="blue">e<tspan font-size="7" dy="3">min</tspan><tspan dy="-3"> = 35.1 mm</tspan></text>
<rect x="578" y="206" width="78" height="20" fill="#ffff00"/>
<text x="581" y="220" fill="blue">e<tspan font-size="7" dy="3">0</tspan><tspan dy="-3"> = 68.0 mm</tspan></text>
<rect x="613" y="231" width="80" height="20" fill="#ffff00"/>
<text x="616" y="245" fill="blue">e<tspan font-size="7" dy="3">b</tspan><tspan dy="-3"> = 203.4 mm</tspan></text>
</g>`);
addHTML(c2,`
<text x="1322" y="393" text-anchor="middle" font-size="10.5">M<tspan font-size="7" dy="3">n</tspan><tspan dy="-3"> or ϕM</tspan><tspan font-size="7" dy="3">n</tspan><tspan dy="-3"> [kN·m]</tspan></text>
<text transform="translate(1040,185) rotate(-90)" text-anchor="middle" font-size="10.5" font-weight="bold">P<tspan font-size="7" dy="3">n</tspan><tspan dy="-3"> or ϕP</tspan><tspan font-size="7" dy="3">n</tspan><tspan dy="-3"> [kN]</tspan></text>
<rect x="1247" y="14" width="111" height="22" fill="#ffcc00"/>
<text x="1302" y="30" text-anchor="middle" font-size="12" font-weight="bold">AASHTO-2018 [FRP]</text>
<rect x="1422" y="14" width="137" height="35" fill="#fff" stroke="#222"/>
<line x1="1429" y1="26" x2="1448" y2="26" stroke="#ff00ff" stroke-width="2" stroke-dasharray="2,2"/>
<text x="1452" y="29" font-size="8" font-weight="bold">P<tspan font-size="6" dy="2">n</tspan><tspan dy="-2">-M</tspan><tspan font-size="6" dy="2">n</tspan><tspan dy="-2"> Diagram</tspan></text>
<line x1="1429" y1="40" x2="1448" y2="40" stroke="#4169e1" stroke-width="2"/>
<text x="1452" y="43" font-size="8" font-weight="bold">ϕP<tspan font-size="6" dy="2">n</tspan><tspan dy="-2">-ϕM</tspan><tspan font-size="6" dy="2">n</tspan><tspan dy="-2"> Diagram</tspan></text>
<g font-size="10.5">
<text x="1093" y="32">A (Pure Compression)</text>
<text x="1258" y="56">B (e<tspan font-size="7" dy="3">min</tspan><tspan dy="-3">)</tspan></text>
<text x="1281" y="63">C (e<tspan font-size="7" dy="3">0</tspan><tspan dy="-3">) Zero Tension</tspan></text>
<text x="1405" y="165">F</text>
<text x="1355" y="198">E (ε<tspan font-size="7" dy="3">t</tspan><tspan dy="-3"> = 0.8ε</tspan><tspan font-size="7" dy="3">fu</tspan><tspan dy="-3">)</tspan></text>
<rect x="1465" y="194" width="95" height="44" fill="#add8e6"/>
<text x="1469" y="207">D (e<tspan font-size="7" dy="3">b</tspan><tspan dy="-3">)</tspan></text>
<text x="1472" y="221">Balance</text><text x="1470" y="234">Point</text>
<text x="1093" y="327">G (Pure Tension)</text>
<text x="1090" y="97">ϕP<tspan font-size="7" dy="3">n(max)</tspan><tspan dy="-3"> = 2,140.1 kN</tspan></text>
<rect x="1115" y="103" width="75" height="15" fill="#ffff00"/>
<text x="1117" y="115" fill="blue">e<tspan font-size="7" dy="3">min</tspan><tspan dy="-3"> = 44.6 mm</tspan></text>
<rect x="1113" y="118" width="75" height="16" fill="#ffff00"/>
<text x="1115" y="131" fill="blue">e<tspan font-size="7" dy="3">0</tspan><tspan dy="-3"> = 55.1 mm</tspan></text>
<rect x="1173" y="167" width="86" height="19" fill="#ffff00"/>
<text x="1176" y="181" fill="red">e<tspan font-size="7" dy="3">b</tspan><tspan dy="-3"> = -184.6 mm</tspan></text>
</g>`);

// rebar layout
const outerBarX=[951,1013,1075], outerBarY=[478,540,600];
const innerBarX=[970,1013,1057], innerBarY=[495,540,583];
const bars=document.getElementById('bars');
outerBarX.forEach((x,i)=>outerBarY.forEach((y,j)=>{ if(i===1&&j===1) return;
  const c=el('circle',bars);c.setAttribute('cx',x);c.setAttribute('cy',y);c.setAttribute('r','5');c.setAttribute('fill','#ee0000');c.setAttribute('stroke','#222');
  
  }));
innerBarX.forEach((x,i)=>innerBarY.forEach((y,j)=>{ if(i===1&&j===1) return;
  const c=el('circle',bars);c.setAttribute('cx',x);c.setAttribute('cy',y);c.setAttribute('r','5');c.setAttribute('fill','#118811');c.setAttribute('stroke','#222');
  
  }));
</script>
</body></html>
